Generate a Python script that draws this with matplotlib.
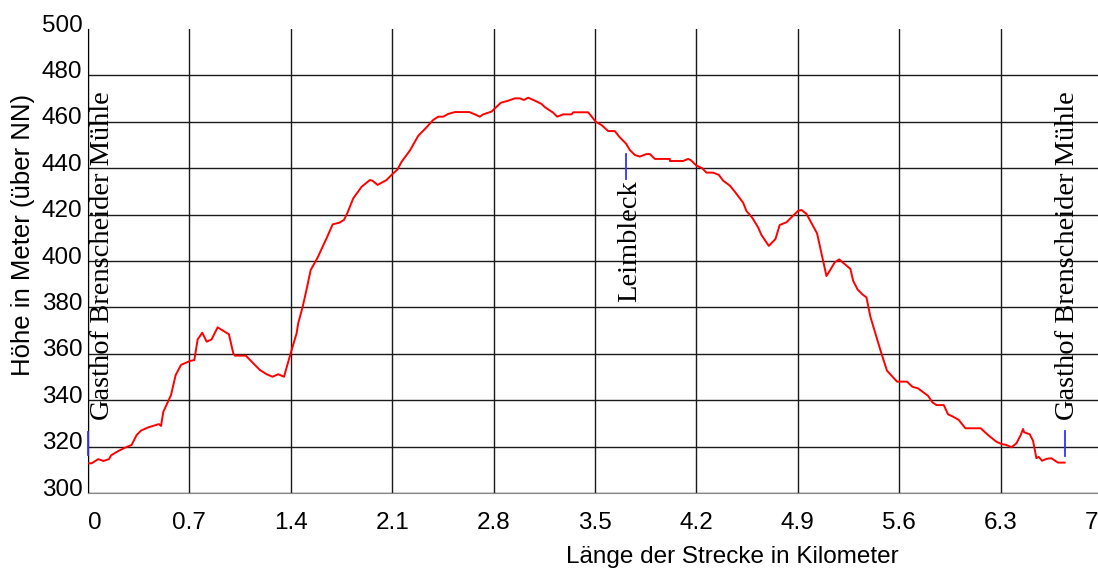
#%% Load modules
import matplotlib
matplotlib.use('Agg')
import matplotlib.pyplot as plt
import matplotlib.transforms as mtransforms
import numpy as np

#%% Elevation profile
distance_km = [0.000, 0.025, 0.071, 0.106, 0.145, 0.159, 0.209, 0.255, 0.301, 0.336,
               0.366, 0.416, 0.490, 0.504, 0.520, 0.573, 0.605, 0.642, 0.704, 0.734,
               0.757, 0.789, 0.819, 0.853, 0.895, 0.973, 1.003, 1.014, 1.090, 1.130,
               1.187, 1.233, 1.274, 1.313, 1.353, 1.399, 1.440, 1.451, 1.482, 1.513,
               1.537, 1.583, 1.647, 1.689, 1.735, 1.767, 1.790, 1.831, 1.889, 1.946,
               1.964, 1.999, 2.061, 2.096, 2.137, 2.165, 2.222, 2.280, 2.326, 2.383,
               2.418, 2.452, 2.487, 2.533, 2.632, 2.671, 2.705, 2.728, 2.786, 2.809,
               2.850, 2.901, 2.947, 2.981, 3.009, 3.039, 3.085, 3.131, 3.154, 3.212,
               3.239, 3.281, 3.338, 3.350, 3.453, 3.506, 3.545, 3.591, 3.637, 3.671,
               3.713, 3.741, 3.775, 3.809, 3.856, 3.879, 3.913, 4.017, 4.017, 4.108,
               4.143, 4.161, 4.200, 4.240, 4.269, 4.315, 4.355, 4.385, 4.431, 4.465,
               4.523, 4.545, 4.585, 4.626, 4.649, 4.700, 4.746, 4.775, 4.822, 4.867,
               4.902, 4.925, 4.960, 5.033, 5.098, 5.155, 5.185, 5.263, 5.282, 5.312,
               5.346, 5.374, 5.401, 5.477, 5.507, 5.516, 5.585, 5.654, 5.691, 5.730,
               5.799, 5.829, 5.857, 5.908, 5.937, 5.972, 6.011, 6.057, 6.163, 6.213,
               6.271, 6.306, 6.340, 6.375, 6.409, 6.439, 6.455, 6.462, 6.501, 6.524,
               6.547, 6.563, 6.586, 6.616, 6.650, 6.696, 6.742]
elevation_m = [312.8, 312.8, 314.6, 313.8, 314.6, 316.2, 318.1, 319.5, 320.7, 325.0,
               326.9, 328.3, 329.7, 328.9, 335.0, 342.2, 350.8, 355.2, 356.9, 357.3,
               366.2, 369.1, 365.2, 366.2, 371.4, 368.4, 360.2, 359.2, 359.2, 356.6,
               353.0, 351.2, 350.1, 351.2, 350.1, 360.2, 368.8, 373.1, 380.3, 388.9,
               396.1, 401.2, 409.8, 415.8, 416.5, 417.7, 420.6, 427.0, 432.0, 434.9,
               434.6, 432.8, 434.9, 437.1, 439.5, 442.8, 447.6, 454.0, 456.9, 460.8,
               462.2, 462.2, 463.4, 464.2, 464.2, 463.2, 462.2, 463.2, 464.4, 465.8,
               468.2, 469.1, 470.1, 470.1, 469.4, 470.4, 469.1, 467.7, 466.3, 463.9,
               462.2, 463.2, 463.2, 464.1, 464.1, 460.0, 458.6, 456.0, 456.0, 453.3,
               450.7, 447.8, 445.7, 445.0, 446.1, 446.1, 444.0, 444.0, 443.1, 443.1,
               444.0, 443.5, 441.1, 440.0, 438.1, 438.1, 437.1, 434.6, 432.5, 429.9,
               425.1, 421.6, 418.7, 414.5, 411.2, 406.5, 409.5, 415.5, 416.7, 419.5,
               421.6, 422.0, 420.3, 411.9, 393.5, 399.4, 400.7, 396.6, 391.5, 387.8,
               385.6, 384.3, 376.0, 360.2, 354.4, 352.7, 348.0, 348.0, 345.8, 345.1,
               341.9, 339.1, 337.9, 337.9, 333.9, 332.9, 331.5, 327.9, 327.9, 325.0,
               322.1, 321.1, 320.7, 319.7, 321.4, 325.0, 327.6, 326.2, 325.3, 322.5,
               315.0, 315.6, 313.9, 314.7, 315.0, 313.1, 313.1]

# waypoints: name, position (km), marker bottom / top (m)
waypoint_names = ['Gasthof Brenscheider Mühle', 'Leimbleck', 'Gasthof Brenscheider Mühle']
waypoint_km = [0.0, 3.713, 6.742]
waypoint_low = [316.4, 435.2, 315.9]
waypoint_high = [326.4, 446.1, 326.8]

x_ticks = np.round(np.arange(0, 7.01, 0.7), 1)
x_tick_labels = ['0', '0.7', '1.4', '2.1', '2.8', '3.5', '4.2', '4.9', '5.6', '6.3', '7']
y_ticks = np.arange(300, 501, 20)

#%% Plot
W, H = 1098, 573
fig = plt.figure(figsize=(W / 100, H / 100), dpi=100)
ax = fig.add_axes([88 / W, 80 / H, 1014 / W, 464 / H])

sans = 'Liberation Sans'
serif = 'Liberation Serif'

ax.plot(distance_km, elevation_m, color='red', lw=1.4, zorder=3)
for km, lo, hi in zip(waypoint_km, waypoint_low, waypoint_high):
    ax.plot([km, km], [lo, hi], color='#3333ff', lw=1.3, zorder=4, clip_on=False)

# waypoint texts
ax.text(0.098, 331.5, waypoint_names[0], rotation=90, ha='center', va='bottom',
        family=serif, fontsize=20.5, zorder=5)
ax.text(waypoint_km[1] + 0.025, 434.9, waypoint_names[1], rotation=90, ha='center', va='top',
        family=serif, fontsize=20.5, zorder=5)
ax.text(waypoint_km[2] + 0.02, 331.5, waypoint_names[2], rotation=90, ha='center', va='bottom',
        family=serif, fontsize=20.5, zorder=5)

ax.set_xlim(0, 7)
ax.set_ylim(300, 500)
ax.set_xticks(x_ticks)
ax.set_xticklabels(x_tick_labels, family=sans, fontsize=17.5)
ax.set_yticks(y_ticks)
ax.set_yticklabels([str(v) for v in y_ticks], family=sans, fontsize=17.5)
ax.tick_params(length=0)
ax.tick_params(axis='x', pad=14)
ax.tick_params(axis='y', pad=4)

xl = ax.get_xticklabels()
xl[0].set_ha('left')
xl[-1].set_ha('right')
xl[-1].set_transform(xl[-1].get_transform() + mtransforms.ScaledTranslation(-4 / 100, 0, fig.dpi_scale_trans))
up = mtransforms.ScaledTranslation(0, 6 / 100, fig.dpi_scale_trans)
for lab in ax.get_yticklabels():
    lab.set_transform(lab.get_transform() + up)

ax.grid(True, color='#1a1a1a', lw=1)
ax.get_ygridlines()[-1].set_visible(False)
ax.set_axisbelow(True)
for s in ['top', 'right']:
    ax.spines[s].set_visible(False)
ax.spines['left'].set_color('black')
ax.spines['bottom'].set_color('#888888')

fig.text(23 / W, 1 - 235 / H, 'Höhe in Meter (über NN)', rotation=90, ha='center', va='center',
         family=sans, fontsize=18.5)
fig.text(732 / W, 10 / H, 'Länge der Strecke in Kilometer', ha='center', va='baseline',
         family=sans, fontsize=17.5)

fig.savefig('out.png', dpi=100)
